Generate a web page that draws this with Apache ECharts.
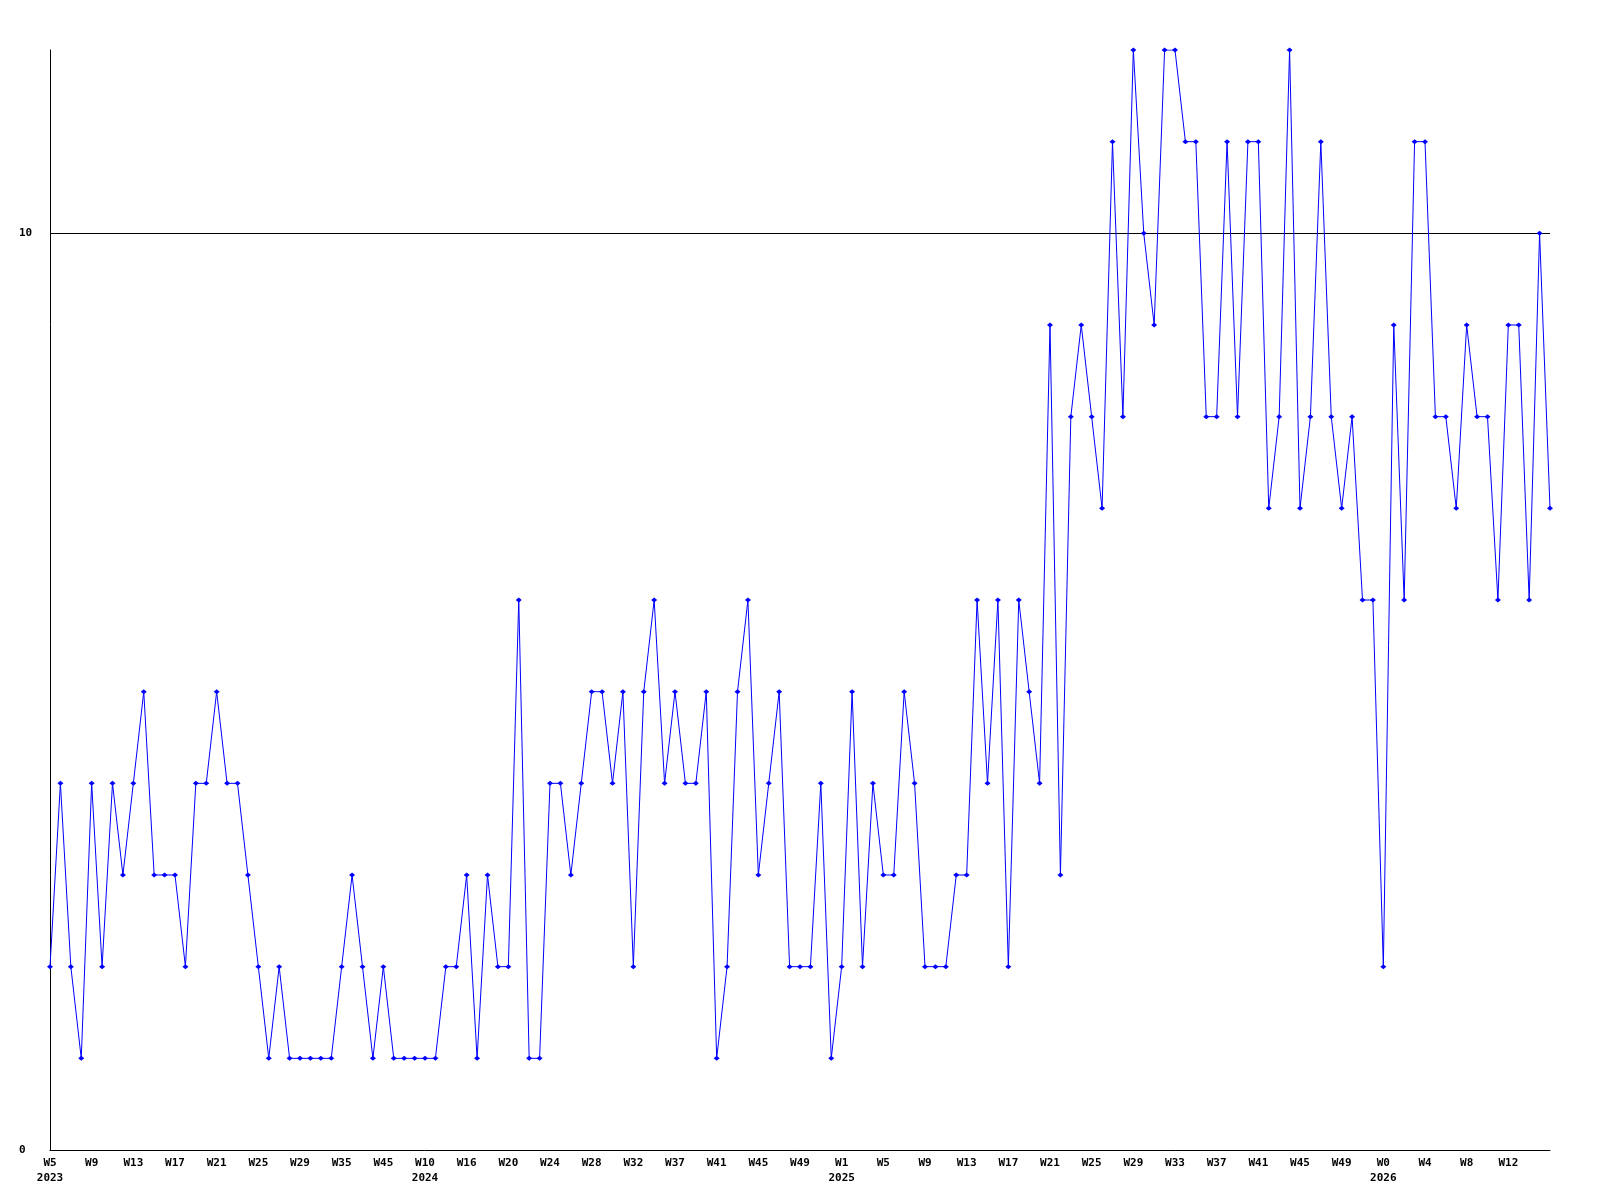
<!DOCTYPE html>
<html>
<head>
<meta charset="utf-8">
<script src="https://cdn.jsdelivr.net/npm/echarts@6/dist/echarts.min.js"></script>
<style>
html,body{margin:0;padding:0;background:#fff;}
#chart{width:1600px;height:1200px;}
</style>
</head>
<body>
<div id="chart"></div>
<script>
// Tick labels shown every 4th weekly point
const tickLabels = ['W5','W9','W13','W17','W21','W25','W29','W35','W45','W10','W16','W20','W24','W28','W32','W37','W41','W45','W49','W1','W5','W9','W13','W17','W21','W25','W29','W33','W37','W41','W45','W49','W0','W4','W8','W12'];
// Year shown under the tick label at these tick indices
const yearTicks = [0, 9, 19, 32];
const yearNames = ['2023', '2024', '2025', '2026'];
// Weekly values (145 points)
const values = [
  2,4,2,1,4,2,4,3,4,5,
  3,3,3,2,4,4,5,4,4,3,
  2,1,2,1,1,1,1,1,2,3,
  2,1,2,1,1,1,1,1,2,2,
  3,1,3,2,2,6,1,1,4,4,
  3,4,5,5,4,5,2,5,6,4,
  5,4,4,5,1,2,5,6,3,4,
  5,2,2,2,4,1,2,5,2,4,
  3,3,5,4,2,2,2,3,3,6,
  4,6,2,6,5,4,9,3,8,9,
  8,7,11,8,12,10,9,12,12,11,
  11,8,8,11,8,11,11,7,8,12,
  7,8,11,8,7,8,6,6,2,9,
  6,11,11,8,8,7,9,8,8,6,
  9,9,6,10,7
];
const yTicks = { min: 0, max: 12, interval: 10 };
const gridLineValue = 10;

const categories = values.map((v, i) => 'p' + i);

const chart = echarts.init(document.getElementById('chart'), null, { renderer: 'canvas' });
const labelFont = { fontFamily: '"DejaVu Sans Mono", monospace', fontWeight: 'bold', fontSize: 11, color: '#000' };

chart.setOption({
  animation: false,
  backgroundColor: '#fff',
  grid: { left: 50, right: 50, top: 50, bottom: 50, containLabel: false },
  xAxis: {
    type: 'category',
    data: categories,
    boundaryGap: false,
    axisLine: { show: true, lineStyle: { color: '#000', width: 1 } },
    axisTick: { show: false },
    splitLine: { show: false },
    axisLabel: Object.assign({}, labelFont, {
      interval: 3,
      margin: 6,
      lineHeight: 15,
      formatter: function (value, index) {
        const t = Math.round(index / 4);
        if (index % 4 !== 0 || t >= tickLabels.length) return '';
        const yi = yearTicks.indexOf(t);
        return yi >= 0 ? tickLabels[t] + '\n' + yearNames[yi] : tickLabels[t];
      }
    })
  },
  yAxis: {
    type: 'value',
    min: yTicks.min,
    max: yTicks.max,
    interval: yTicks.interval,
    axisLine: { show: true, lineStyle: { color: '#000', width: 1 } },
    axisTick: { show: false },
    splitLine: { show: false },
    axisLabel: Object.assign({}, labelFont, {
      align: 'left',
      margin: 31,
      showMaxLabel: false,
      formatter: function (v) { return (v === yTicks.min || v === gridLineValue) ? String(v) : ''; }
    })
  },
  series: [{
    type: 'line',
    data: values,
    symbol: 'diamond',
    symbolSize: [6, 5],
    showAllSymbol: true,
    lineStyle: { color: '#0000ff', width: 1 },
    itemStyle: { color: '#0000ff' },
    emphasis: { disabled: true },
    z: 3,
    markLine: {
      silent: true,
      symbol: 'none',
      label: { show: false },
      lineStyle: { color: '#000', width: 1, type: 'solid' },
      emphasis: { disabled: true },
      data: [{ yAxis: gridLineValue }],
      z: 1
    }
  }]
});
</script>
</body>
</html>
